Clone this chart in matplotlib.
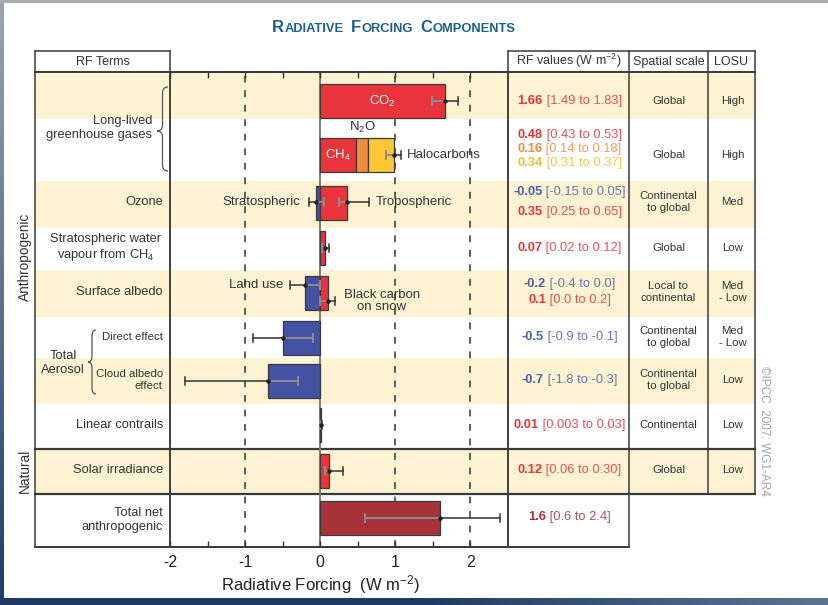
import numpy as np
import matplotlib.pyplot as plt
from matplotlib.patches import Rectangle, PathPatch
from matplotlib.path import Path
from matplotlib.colors import LinearSegmentedColormap
from matplotlib.offsetbox import TextArea, HPacker, AnnotationBbox

plt.rcParams['font.family'] = ['Liberation Sans', 'DejaVu Sans']
plt.rcParams['mathtext.fontset'] = 'custom'
plt.rcParams['mathtext.rm'] = 'Liberation Sans'
plt.rcParams['mathtext.it'] = 'Liberation Sans:italic'
plt.rcParams['mathtext.bf'] = 'Liberation Sans:bold'

# --- data (W m-2) ---
components = ['CO$_2$', 'CH$_4$', 'N$_2$O', 'Halocarbons', 'Stratospheric', 'Tropospheric',
              'Strat. H2O', 'Land use', 'Black carbon\non snow', 'Direct effect',
              'Cloud albedo', 'Linear contrails', 'Solar irradiance', 'Total net']
rf_best = [1.66, 0.48, 0.16, 0.34, -0.05, 0.35, 0.07, -0.2, 0.1, -0.5, -0.7, 0.01, 0.12, 1.6]
rf_low = [1.49, 0.43, 0.14, 0.31, -0.15, 0.25, 0.02, -0.4, 0.0, -0.9, -1.8, 0.003, 0.06, 0.6]
rf_high = [1.83, 0.53, 0.18, 0.37, 0.05, 0.65, 0.12, 0.0, 0.2, -0.1, -0.3, 0.03, 0.30, 2.4]
rf_best_txt = ['1.66', '0.48', '0.16', '0.34', '-0.05', '0.35', '0.07', '-0.2', '0.1',
               '-0.5', '-0.7', '0.01', '0.12', '1.6']
rf_range_txt = ['[1.49 to 1.83]', '[0.43 to 0.53]', '[0.14 to 0.18]', '[0.31 to 0.37]',
                '[-0.15 to 0.05]', '[0.25 to 0.65]', '[0.02 to 0.12]', '[-0.4 to 0.0]',
                '[0.0 to 0.2]', '[-0.9 to -0.1]', '[-1.8 to -0.3]', '[0.003 to 0.03]',
                '[0.06 to 0.30]', '[0.6 to 2.4]']
row_of = [0, 1, 1, 1, 2, 2, 3, 4, 4, 5, 6, 7, 8, 9]
stacked = [False, True, True, True, False, False, False, False, False, False, False, False, False, False]

terms = ['', 'Long-lived\ngreenhouse gases', 'Ozone', 'Stratospheric water\nvapour from CH$_4$',
         'Surface albedo', 'Direct effect', 'Cloud albedo\neffect', 'Linear contrails',
         'Solar irradiance', 'Total net\nanthropogenic']
spatial = ['Global', 'Global', 'Continental\nto global', 'Global', 'Local to\ncontinental',
           'Continental\nto global', 'Continental\nto global', 'Continental', 'Global']
losu = ['High', 'High', 'Med', 'Low', 'Med\n- Low', 'Med\n- Low', 'Low', 'Low', 'Low']

# --- colours ---
RED, ORANGE, YELLOW, BLUE, DRED = '#e8343a', '#f28b3e', '#fcc838', '#4352a3', '#a8323a'
bar_col = [RED, RED, ORANGE, YELLOW, BLUE, RED, RED, BLUE, RED, BLUE, BLUE, RED, RED, DRED]
txt_col = [RED, RED, ORANGE, '#f5bd2e', '#4a5fab', RED, RED, '#4a5fab', RED,
           '#4a5fab', '#4a5fab', RED, RED, DRED]
CREAM = '#fdf3d3'
LINE = '#3a3a3a'
GREY_TXT = '#333333'

# --- layout (pixel rows) ---
W, H = 829, 605
row_edges = [72, 119, 181, 228, 270, 317, 358, 404, 449, 494, 547]
row_shade = [1, 0, 1, 0, 1, 0, 1, 0, 1, 0]
bar_y = [101, 155, 203, 248, 293, 338, 381, 425, 471, 518]
err_y = [101, None, None, None, 202, 202, 248, 285, 301, 338, 381, 425, 471, 518]
txt_y = [101, 135, 149, 163, 192, 212, 248, 284, 300, 337, 380, 425, 470, 517]
term_y = [None, 128, 202, 248, 292, 337, 380, 425, 470, 520]
cell_y = [101, 155, 202, 248, 292, 337, 380, 425, 470]
X_TERMS, X_PLOT0, X_PLOT1, X_RFV, X_SPAT, X_LOSU = 35, 170, 508, 629, 708, 755

fig = plt.figure(figsize=(W / 100, H / 100), dpi=100, facecolor='white')

# background / table axes in pixel coordinates
bg = fig.add_axes([0, 0, 1, 1])
bg.axis('off')

# slide decoration
grad = np.linspace(0, 1, 256).reshape(-1, 1)
bg.imshow(grad, extent=(0, 4, H, 0), aspect='auto',
          cmap=LinearSegmentedColormap.from_list('l', ['#9aa4b4', '#1f3a66']))
bg.imshow(grad.T, extent=(0, W, H, 598), aspect='auto',
          cmap=LinearSegmentedColormap.from_list('b', ['#1e3964', '#1e3964', '#5d7394']))
bg.add_patch(Rectangle((0, 0), W, 3, color='#a7adb4', lw=0))
bg.set_xlim(0, W)
bg.set_ylim(H, 0)

for i, sh in enumerate(row_shade):
    if sh:
        right = X_LOSU if i < 9 else X_RFV
        bg.add_patch(Rectangle((X_TERMS, row_edges[i]), right - X_TERMS,
                               row_edges[i + 1] - row_edges[i], color=CREAM, lw=0, zorder=0))


def hline(y, x0, x1, lw=1.1):
    bg.plot([x0, x1], [y, y], color=LINE, lw=lw, solid_capstyle='projecting', zorder=3)


def vline(x, y0, y1, lw=1.1):
    bg.plot([x, x], [y0, y1], color=LINE, lw=lw, solid_capstyle='projecting', zorder=3)


# header boxes
hline(51, X_TERMS, X_PLOT0)
hline(51, X_PLOT1, X_LOSU)
hline(72, X_TERMS, X_LOSU, lw=1.4)
for x in (X_TERMS, X_PLOT0, X_PLOT1, X_RFV):
    vline(x, 51, 547)
for x in (X_SPAT, X_LOSU):
    vline(x, 51, 494)
hline(449, X_TERMS, X_LOSU, lw=1.6)
hline(494, X_TERMS, X_LOSU, lw=1.6)
hline(547, X_TERMS, X_RFV, lw=1.4)

hdr = dict(fontsize=9, color=GREY_TXT, ha='center', va='center')
bg.text((X_TERMS + X_PLOT0) / 2, 62, 'RF Terms', **hdr)
bg.text((X_PLOT1 + X_RFV) / 2, 61, 'RF values (W m$^{-2}$)', **hdr)
bg.text((X_RFV + X_SPAT) / 2, 62, 'Spatial scale', **hdr)
bg.text((X_SPAT + X_LOSU) / 2, 62, 'LOSU', **hdr)

# title in small caps
words = ['Radiative', 'Forcing', 'Components']
boxes = []
for w in words:
    a = TextArea(w[0], textprops=dict(fontsize=12, fontweight='bold', color='#1d5f8e'))
    b = TextArea(w[1:].upper(), textprops=dict(fontsize=9.3, fontweight='bold', color='#1d5f8e'))
    boxes.append(HPacker(children=[a, b], align='baseline', pad=0, sep=0.5))
title = HPacker(children=boxes, align='baseline', pad=0, sep=5)
bg.add_artist(AnnotationBbox(title, (394, 27), xycoords='data', frameon=False,
                             box_alignment=(0.5, 0.5), pad=0))

# left side labels
bg.text(25, 257, 'Anthropogenic', rotation=90, fontsize=9.8, color=GREY_TXT, ha='center', va='center')
bg.text(25, 471, 'Natural', rotation=90, fontsize=9.8, color=GREY_TXT, ha='center', va='center')

for i, t in enumerate(terms):
    if not t:
        continue
    if i == 1:
        bg.text(152, term_y[i], t, fontsize=9.3, color=GREY_TXT, ha='right', va='center')
    elif i == 3:
        bg.text(106, term_y[i], t, fontsize=9.3, color=GREY_TXT, ha='center', va='center',
                multialignment='center', linespacing=1.25)
    elif i in (5, 6):
        bg.text(163, term_y[i], t, fontsize=8.2, color=GREY_TXT, ha='right', va='center',
                multialignment='right')
    else:
        bg.text(163, term_y[i], t, fontsize=9.3, color=GREY_TXT, ha='right', va='center',
                multialignment='right')
bg.text(63, 363, 'Total\nAerosol', fontsize=9.3, color=GREY_TXT, ha='center', va='center',
        multialignment='center', linespacing=1.15)


def brace(x_tip, x_end, y0, y1, y_tip, r=6):
    xm = (x_tip + x_end) / 2
    verts = [(x_end, y0), (xm, y0), (xm, y0 + r), (xm, y_tip - r), (xm, y_tip), (x_tip, y_tip),
             (xm, y_tip), (xm, y_tip + r), (xm, y1 - r), (xm, y1), (x_end, y1)]
    codes = [Path.MOVETO, Path.CURVE3, Path.CURVE3, Path.LINETO, Path.CURVE3, Path.CURVE3,
             Path.CURVE3, Path.CURVE3, Path.LINETO, Path.CURVE3, Path.CURVE3]
    bg.add_patch(PathPatch(Path(verts, codes), fill=False, ec='#555555', lw=0.9, zorder=3))


brace(157, 168, 87, 171, 131)
brace(88, 96, 330, 394, 362)

# spatial scale / LOSU columns
cell = dict(fontsize=8.2, color=GREY_TXT, ha='center', va='center', multialignment='center')
for i in range(9):
    bg.text((X_RFV + X_SPAT) / 2, cell_y[i], spatial[i], **cell)
    bg.text((X_SPAT + X_LOSU) / 2 + 1, cell_y[i], losu[i], **cell)

# RF values column
for i in range(len(components)):
    a = TextArea(rf_best_txt[i], textprops=dict(fontsize=9.3, fontweight='bold', color=txt_col[i]))
    b = TextArea(' ' + rf_range_txt[i], textprops=dict(fontsize=9.3, color=txt_col[i], alpha=0.85))
    box = HPacker(children=[a, b], align='baseline', pad=0, sep=0)
    bg.add_artist(AnnotationBbox(box, ((X_PLOT1 + X_RFV) / 2 + 1, txt_y[i]), xycoords='data',
                                 frameon=False, box_alignment=(0.5, 0.5), pad=0))

bg.text(764, 431, '\u00a9IPCC  2007: WG1-AR4', rotation=270, fontsize=8.5, color='#a3a3a3',
        ha='center', va='center')

# --- bar chart axes ---
ax = fig.add_axes([X_PLOT0 / W, 1 - 547 / H, (X_PLOT1 - X_PLOT0) / W, (547 - 72) / H])
ax.patch.set_visible(False)
ax.set_xlim(-2, 2.5)
ax.set_ylim(547, 72)

for x in (-1, 1, 2):
    ax.axvline(x, color='#333333', lw=1.1, ls=(0, (4.5, 5)), zorder=1)
ax.axvline(0, color='#7a7a7a', lw=1.4, zorder=1)

left = 0.0
for i in range(len(components)):
    y = bar_y[row_of[i]]
    base = left if stacked[i] else 0.0
    ax.barh(y, rf_best[i], left=base, height=34, color=bar_col[i], edgecolor='#3a3a3a',
            lw=0.9, zorder=2)
    if stacked[i]:
        left += rf_best[i]


def err(v, lo, hi, y):
    inner, outer = (lo, hi) if abs(lo) < abs(hi) else (hi, lo)
    ax.plot([v, inner], [y, y], color='#8c8c8c', lw=1.4, zorder=3)
    ax.plot([inner, inner], [y - 4, y + 4], color='#8c8c8c', lw=1.4, zorder=3)
    ax.plot([v, outer], [y, y], color='#333333', lw=1.1, zorder=3)
    ax.plot([outer, outer], [y - 4, y + 4], color='#333333', lw=1.1, zorder=3)
    ax.plot(v, y, 'o', ms=2.2, color='#222222', zorder=4)


for i in range(len(components)):
    if err_y[i] is not None:
        err(rf_best[i], rf_low[i], rf_high[i], err_y[i])
# combined long-lived gases (CH4 + N2O + halocarbons)
ghg = [i for i in range(len(components)) if stacked[i]]
err(sum(rf_best[i] for i in ghg), sum(rf_low[i] for i in ghg), sum(rf_high[i] for i in ghg), bar_y[1])

lab = dict(fontsize=9.5, color=GREY_TXT, va='center')
ax.text(rf_best[0] / 2, bar_y[0], components[0], color='white', fontsize=9.5, ha='center', va='center', zorder=5)
ax.text(rf_best[1] / 2, bar_y[1], components[1], color='white', fontsize=9.5, ha='center', va='center', zorder=5)
ax.text(rf_best[1] + rf_best[2] / 2, 127, components[2], fontsize=9.5, color=GREY_TXT, ha='center', va='center')
ax.annotate(components[3], (sum(rf_high[i] for i in ghg), bar_y[1]), xytext=(4, 0),
            textcoords='offset points', ha='left', **lab)
ax.annotate(components[4], (rf_low[4], err_y[4]), xytext=(-6, 0), textcoords='offset points', ha='right', **lab)
ax.annotate(components[5], (rf_high[5], err_y[5]), xytext=(5, 0), textcoords='offset points', ha='left', **lab)
ax.annotate(components[7], (rf_low[7], err_y[7]), xytext=(-5, 0), textcoords='offset points', ha='right', **lab)
ax.annotate(components[8], (rf_high[8], err_y[8]), xytext=(6, 0), textcoords='offset points', ha='left',
            multialignment='center', linespacing=0.95, **lab)

ax.set_xticks([-2, -1, 0, 1, 2])
ax.set_xticklabels(['-2', '-1', '0', '1', '2'])
ax.set_xticks([-1.5, -0.5, 0.5, 1.5], minor=True)
ax.set_yticks([])
ax.tick_params(axis='x', which='both', direction='in', top=True, length=4, width=1,
               color='#333333', labelsize=11.5, labelcolor='#222222', pad=6)
for s in ax.spines.values():
    s.set_color(LINE)
    s.set_linewidth(1.1)
ax.spines['top'].set_linewidth(1.4)
ax.spines['bottom'].set_linewidth(1.4)
ax.set_xlabel('Radiative Forcing  (W m$^{-2}$)', fontsize=12, color='#222222')
ax.xaxis.set_label_coords(0, -0.054, transform=ax.get_xaxis_transform())

fig.savefig('out.png', dpi=100)
